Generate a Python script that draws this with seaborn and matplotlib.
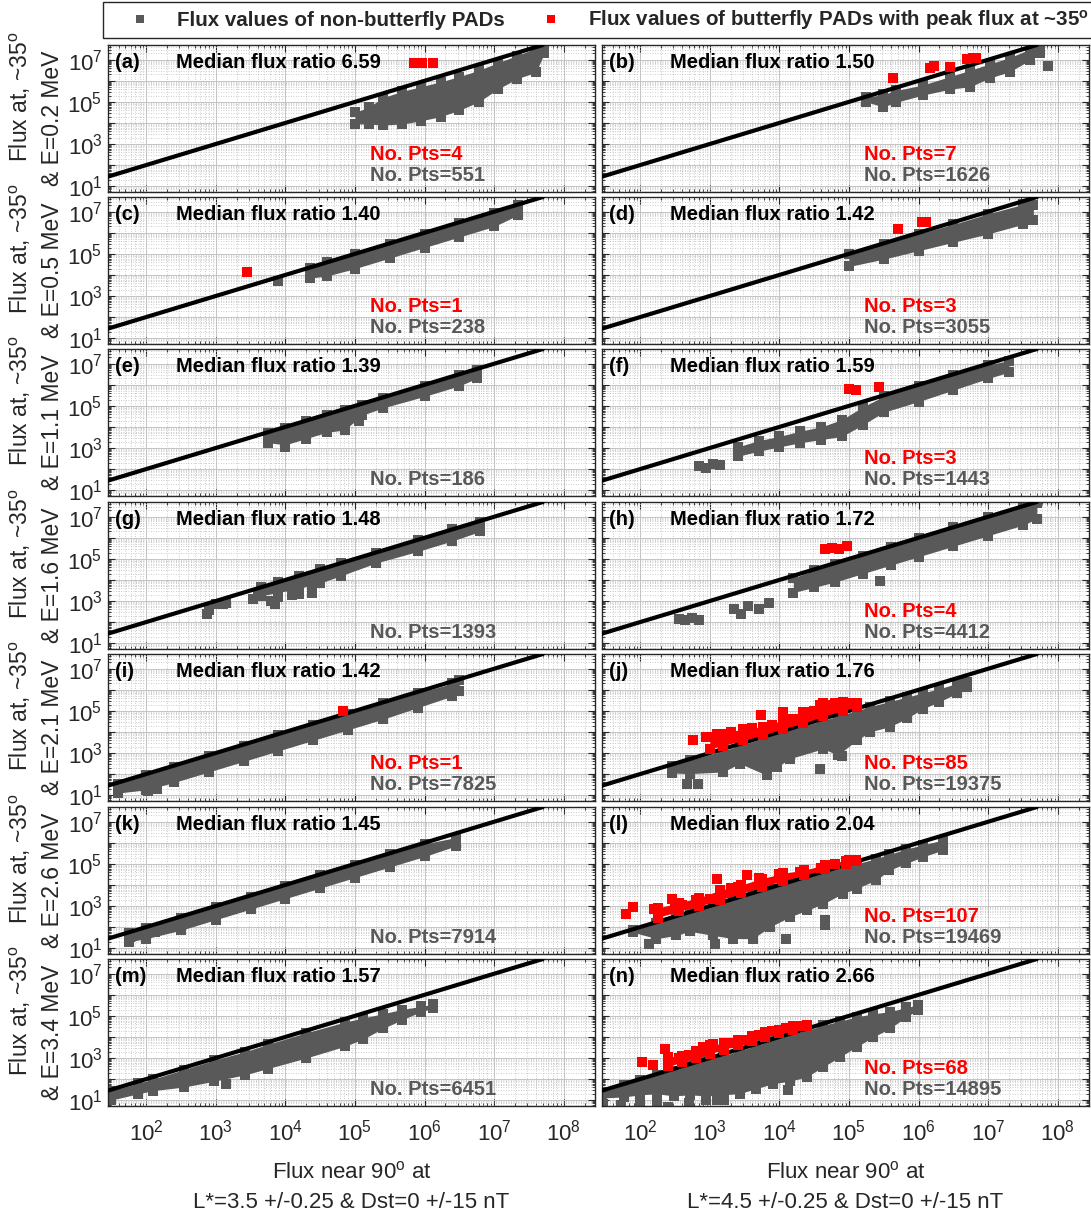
import numpy as np
import pandas as pd
import matplotlib
matplotlib.use("Agg")
import matplotlib.pyplot as plt
import seaborn as sns
from matplotlib.lines import Line2D
from matplotlib.ticker import FixedLocator, FuncFormatter, NullFormatter

sns.set_theme(style="white")
plt.rcParams["font.family"] = ["Liberation Sans", "DejaVu Sans"]
plt.rcParams["mathtext.fontset"] = "custom"
plt.rcParams["mathtext.rm"] = "Liberation Sans"
plt.rcParams["mathtext.bf"] = "Liberation Sans:bold"
plt.rcParams["mathtext.it"] = "Liberation Sans:italic"
plt.rcParams["mathtext.default"] = "regular"

# ---------------------------------------------------------------- data
# All flux values below are log10 of the flux.
panel_tags = ["a", "b", "c", "d", "e", "f", "g", "h", "i", "j", "k", "l", "m", "n"]
energies = ["0.2", "0.5", "1.1", "1.6", "2.1", "2.6", "3.4"]
lstar = ["3.5", "4.5"]
median_ratio = ["6.59", "1.50", "1.40", "1.42", "1.39", "1.59", "1.48",
                "1.72", "1.42", "1.76", "1.45", "2.04", "1.57", "2.66"]
n_red = [4, 7, 1, 3, 0, 3, 0, 4, 1, 85, 0, 107, 0, 68]
n_gray = [551, 1626, 238, 3055, 186, 1443, 1393, 4412, 7825, 19375, 7914, 19469, 6451, 14895]

# equal-flux reference line (log10 end points)
diag_log = [1.45, 7.7]

# dense non-butterfly clouds: x samples with lower / upper edge of the cloud
a_band_x = [5.0, 5.2, 5.4, 5.68, 5.95, 6.23, 6.5, 6.78, 7.05, 7.33, 7.6, 7.72]
a_band_lo = [3.95, 3.95, 3.9, 3.95, 4.1, 4.3, 4.6, 5.0, 5.6, 6.1, 6.4, 7.3]
a_band_hi = [4.5, 4.75, 5.2, 5.5, 5.72, 5.95, 6.2, 6.5, 6.85, 7.2, 7.55, 7.65]
a_gray_x, a_gray_y = [7.44], [6.67]
a_red_x = [5.85, 5.9, 5.97, 6.12]
a_red_y = [6.83, 6.85, 6.83, 6.85]

b_band_x = [5.25, 5.49, 5.68, 6.06, 6.45, 6.74, 7.02, 7.31, 7.6, 7.74]
b_band_lo = [5.0, 4.76, 4.98, 5.32, 5.6, 5.72, 6.13, 6.43, 6.98, 7.3]
b_band_hi = [5.22, 5.35, 5.54, 5.8, 6.2, 6.5, 6.8, 7.1, 7.5, 7.7]
b_gray_x, b_gray_y = [7.86], [6.7]
b_red_x = [5.63, 6.17, 6.22, 6.45, 6.69, 6.78, 6.83]
b_red_y = [6.15, 6.62, 6.68, 6.66, 7.03, 7.1, 7.1]

c_band_x = [4.35, 4.6, 5.0, 5.5, 6.0, 6.5, 7.0, 7.35]
c_band_lo = [3.85, 3.95, 4.3, 4.8, 5.3, 5.8, 6.3, 6.85]
c_band_hi = [4.35, 4.6, 5.0, 5.45, 5.95, 6.45, 6.95, 7.3]
c_gray_x, c_gray_y = [3.89], [3.7]
c_red_x, c_red_y = [3.45], [4.15]

d_band_x = [5.0, 5.5, 6.0, 6.5, 7.0, 7.5, 7.65]
d_band_lo = [4.4, 4.75, 5.15, 5.55, 5.95, 6.4, 6.6]
d_band_hi = [5.0, 5.45, 5.95, 6.4, 6.9, 7.35, 7.3]
d_gray_x, d_gray_y = [], []
d_red_x, d_red_y = [5.7, 6.05, 6.1], [6.2, 6.5, 6.5]

e_band_x = [3.75, 4.0, 4.3, 4.6, 4.85, 5.1, 5.4, 6.0, 6.5, 6.75]
e_band_lo = [3.25, 3.15, 3.45, 3.75, 3.85, 4.55, 4.9, 5.45, 5.95, 6.3]
e_band_hi = [3.7, 3.95, 4.3, 4.55, 4.8, 5.05, 5.35, 5.95, 6.45, 6.7]
e_gray_x, e_gray_y = [3.99, 5.06], [3.05, 4.28]
e_red_x, e_red_y = [], []

f_band_x = [3.4, 3.7, 4.0, 4.3, 4.6, 4.9, 5.2, 5.5, 6.0, 6.5, 7.0, 7.3]
f_band_lo = [2.6, 2.85, 3.05, 3.25, 3.4, 3.55, 4.1, 4.7, 5.2, 5.75, 6.3, 6.6]
f_band_hi = [3.05, 3.35, 3.55, 3.8, 4.0, 4.35, 4.95, 5.45, 5.95, 6.45, 6.95, 7.15]
f_gray_x, f_gray_y = [2.85, 2.95, 3.05, 3.15], [2.15, 2.05, 2.25, 2.2]
f_red_x, f_red_y = [5.0, 5.1, 5.43], [5.8, 5.75, 5.9]

g_band_x = [3.65, 3.9, 4.2, 4.5, 4.8, 5.3, 5.9, 6.4, 6.8]
g_band_lo = [3.25, 3.4, 3.6, 3.85, 4.2, 4.8, 5.35, 5.85, 6.3]
g_band_hi = [3.65, 3.9, 4.2, 4.5, 4.8, 5.3, 5.9, 6.4, 6.75]
g_gray_x = [2.88, 2.9, 3.0, 3.1, 3.14, 3.53, 3.6, 3.8, 3.85, 3.9, 4.1, 4.2, 4.38, 4.38]
g_gray_y = [2.4, 2.55, 2.85, 2.88, 2.9, 3.1, 3.3, 3.0, 2.85, 3.2, 3.3, 3.35, 3.4, 3.8]
g_red_x, g_red_y = [], []

h_band_x = [4.2, 4.5, 4.8, 5.2, 5.6, 6.0, 6.5, 7.0, 7.5, 7.7]
h_band_lo = [3.4, 3.65, 3.9, 4.3, 4.7, 5.1, 5.6, 6.1, 6.6, 6.9]
h_band_hi = [4.1, 4.45, 4.75, 5.15, 5.55, 6.0, 6.5, 7.0, 7.45, 7.65]
h_gray_x = [2.55, 2.65, 2.75, 2.85, 3.35, 3.45, 3.55, 3.7, 3.85, 5.45]
h_gray_y = [2.15, 2.1, 2.2, 2.1, 2.6, 2.4, 2.75, 2.6, 2.9, 3.95]
h_red_x, h_red_y = [4.65, 4.75, 4.85, 4.97], [5.45, 5.5, 5.45, 5.6]

i_band_x = [1.6, 2.0, 2.4, 2.9, 3.4, 3.9, 4.4, 4.9, 5.4, 5.9, 6.4, 6.5]
i_band_lo = [1.1, 1.25, 1.6, 2.1, 2.6, 3.1, 3.6, 4.1, 4.6, 5.15, 5.7, 5.95]
i_band_hi = [1.55, 1.95, 2.35, 2.85, 3.35, 3.85, 4.35, 4.85, 5.35, 5.85, 6.3, 6.45]
i_gray_x, i_gray_y = [2.02, 2.15], [1.2, 1.3]
i_red_x, i_red_y = [4.83], [5.0]

j_band_x = [2.45, 2.71, 3.19, 3.43, 3.82, 3.96, 4.15, 4.63, 4.84, 5.11, 5.3, 5.59, 5.83, 6.06, 6.3, 6.55, 6.69]
j_band_lo = [2.05, 2.02, 2.1, 2.5, 1.94, 2.32, 2.73, 3.2, 2.9, 3.6, 4.0, 4.25, 4.64, 5.1, 5.43, 5.83, 6.15]
j_band_hi = [2.4, 2.65, 3.1, 3.35, 3.75, 3.9, 4.1, 4.55, 4.75, 5.0, 5.2, 5.45, 5.65, 5.85, 6.05, 6.3, 6.38]
j_gray_x, j_gray_y = [2.67, 2.83, 4.58, 4.9], [1.54, 1.54, 2.26, 2.85]
j_redband_x = [3.0, 3.19, 3.48, 3.77, 4.05, 4.34, 4.63, 4.91, 5.11]
j_redband_lo = [3.2, 3.35, 3.6, 3.85, 4.15, 4.4, 4.75, 5.0, 5.2]
j_redband_hi = [3.77, 3.92, 4.15, 4.25, 4.56, 4.96, 5.35, 5.43, 5.35]
j_red_x = [2.76, 3.74, 4.05, 4.58, 2.95, 3.1, 3.3, 3.5, 3.6, 3.9, 4.2, 4.4, 4.5, 4.7, 4.8, 5.0]
j_red_y = [3.61, 4.8, 4.96, 5.27, 3.75, 3.9, 4.0, 4.1, 4.2, 4.35, 4.6, 4.95, 5.0, 5.3, 5.38, 5.35]

k_band_x = [1.75, 2.0, 2.5, 3.0, 3.5, 4.0, 4.5, 5.0, 5.5, 6.0, 6.45]
k_band_lo = [1.3, 1.45, 1.85, 2.35, 2.85, 3.35, 3.85, 4.35, 4.85, 5.35, 5.85]
k_band_hi = [1.7, 1.95, 2.45, 2.95, 3.45, 3.95, 4.45, 4.95, 5.45, 5.95, 6.25]
k_gray_x, k_gray_y = [1.77, 1.98, 2.13], [1.52, 1.76, 1.76]
k_red_x, k_red_y = [], []

l_band_x = [1.9, 2.23, 2.52, 2.71, 3.05, 3.34, 3.62, 3.86, 4.15, 4.4, 4.63, 4.91, 5.11, 5.39, 5.58, 5.82, 6.06, 6.35]
l_band_lo = [1.75, 1.45, 1.6, 1.8, 1.6, 1.45, 1.45, 2.0, 2.48, 2.8, 3.1, 3.59, 3.83, 4.23, 4.7, 5.02, 5.33, 5.65]
l_band_hi = [1.85, 2.18, 2.47, 2.66, 3.0, 3.29, 3.57, 3.81, 4.1, 4.35, 4.58, 4.86, 5.0, 5.25, 5.45, 5.7, 5.9, 6.13]
l_gray_x, l_gray_y = [2.12, 3.07, 4.1, 4.65, 4.65], [1.21, 1.21, 1.45, 2.32, 2.1]
l_redband_x = [2.25, 2.55, 2.85, 3.15, 3.45, 3.75, 4.05, 4.35, 4.65, 4.95, 5.1]
l_redband_lo = [2.45, 2.75, 3.0, 3.3, 3.6, 3.9, 4.2, 4.45, 4.75, 5.0, 5.12]
l_redband_hi = [2.9, 3.15, 3.4, 3.75, 4.0, 4.3, 4.55, 4.7, 4.95, 5.15, 5.2]
l_red_x = [1.8, 1.9, 2.2, 2.45, 3.1, 3.53, 2.5, 2.6, 2.8, 3.0, 3.3, 3.4, 3.7, 4.0, 4.3, 4.6, 4.8, 5.0]
l_red_y = [2.64, 2.96, 2.88, 3.35, 4.3, 4.46, 3.1, 3.05, 3.3, 3.35, 3.85, 3.9, 4.35, 4.5, 4.6, 4.8, 5.0, 5.18]

m_band_x = [1.5, 1.88, 2.1, 2.54, 2.98, 3.42, 3.75, 4.3, 4.85, 5.12, 5.4, 5.67, 5.95, 6.12]
m_band_lo = [1.0, 1.3, 1.45, 1.62, 1.9, 2.2, 2.5, 3.0, 3.55, 3.9, 4.4, 4.8, 5.2, 5.35]
m_band_hi = [1.45, 1.8, 2.0, 2.45, 2.9, 3.3, 3.65, 4.2, 4.7, 4.9, 5.1, 5.3, 5.45, 5.55]
m_gray_x, m_gray_y = [3.14], [1.78]
m_red_x, m_red_y = [], []

n_band_x = [1.45, 1.76, 2.0, 2.24, 2.48, 2.71, 2.95, 3.19, 3.43, 3.67, 3.91, 4.15, 4.39, 4.63, 4.87, 5.11, 5.35, 5.59, 5.82, 5.99]
n_band_lo = [1.1, 1.15, 1.25, 1.3, 1.2, 1.25, 1.2, 1.25, 1.31, 1.55, 1.78, 1.9, 2.1, 2.58, 3.05, 3.53, 4.0, 4.4, 4.95, 5.27]
n_band_hi = [1.4, 1.7, 1.95, 2.2, 2.4, 2.65, 2.9, 3.1, 3.35, 3.6, 3.85, 4.1, 4.3, 4.55, 4.75, 4.95, 5.1, 5.2, 5.4, 5.5]
n_gray_x = [1.47, 1.73, 2.0, 2.24, 2.4, 2.7, 2.95, 3.1, 3.2, 4.13, 4.39]
n_gray_y = [0.83, 0.75, 0.9, 0.9, 0.67, 0.85, 0.99, 0.99, 0.99, 1.47, 2.2]
n_redband_x = [2.4, 2.6, 2.8, 3.0, 3.2, 3.4, 3.6, 3.8, 4.0, 4.2, 4.4]
n_redband_lo = [2.6, 2.8, 3.0, 3.2, 3.4, 3.6, 3.8, 4.0, 4.2, 4.35, 4.5]
n_redband_hi = [3.05, 3.1, 3.35, 3.6, 3.7, 3.85, 4.05, 4.25, 4.35, 4.5, 4.55]
n_red_x = [2.02, 2.19, 2.36, 2.55, 2.7, 2.9, 3.05, 3.3, 3.5, 3.7, 3.9, 4.1, 4.3]
n_red_y = [2.81, 2.66, 3.45, 3.0, 3.15, 3.5, 3.65, 3.7, 3.85, 4.1, 4.3, 4.4, 4.5]

g_ = globals()
panels = {}
for t in panel_tags:
    panels[t] = dict(
        band=(g_[f"{t}_band_x"], g_[f"{t}_band_lo"], g_[f"{t}_band_hi"]),
        gray=(g_[f"{t}_gray_x"], g_[f"{t}_gray_y"]),
        redband=(g_.get(f"{t}_redband_x", []), g_.get(f"{t}_redband_lo", []),
                 g_.get(f"{t}_redband_hi", [])),
        red=(g_[f"{t}_red_x"], g_[f"{t}_red_y"]),
    )

# ---------------------------------------------------------------- style
GRAY = "#595959"
RED = "#ff0000"
INK = "#262626"
MS = 45            # square marker area (pt^2)
FS_TXT = 14.5      # bold in-panel text
FS_LEG = 14.8
FS_TICK = 16
FS_LAB = 16.5

W, H = 1091, 1212
fig = plt.figure(figsize=(W / 100, H / 100), dpi=100)
col_left = [108, 602]
ax_w = 487
row_top = [45, 197, 349, 502, 654, 807, 959]
ax_h = 147
XLIM = (10 ** 1.45, 10 ** 8.45)
YLIM = (10 ** 0.72, 10 ** 7.7)

x_major = 10.0 ** np.arange(2, 9)
y_major = 10.0 ** np.arange(1, 8)
minor_all = np.array([k * 10.0 ** e for e in range(0, 9) for k in range(2, 10)])
x_minor = minor_all[(minor_all > XLIM[0]) & (minor_all < XLIM[1])]
y_minor = minor_all[(minor_all > YLIM[0]) & (minor_all < YLIM[1])]


def dec_fmt(odd_only):
    def f(v, pos):
        e = int(round(np.log10(v)))
        if odd_only and e % 2 == 0:
            return ""
        return r"$10^{%d}$" % e
    return FuncFormatter(f)


def scatter(ax, xs, ys, color, z):
    if len(xs) == 0:
        return
    df = pd.DataFrame({"x": np.power(10.0, xs), "y": np.power(10.0, ys)})
    sns.scatterplot(data=df, x="x", y="y", marker="s", s=MS, color=color,
                    linewidth=0, ax=ax, zorder=z, legend=False)


def cloud(ax, bx, blo, bhi, color, z):
    if len(bx) == 0:
        return
    bx, blo, bhi = (np.asarray(v, float) for v in (bx, blo, bhi))
    ax.fill_between(np.power(10.0, bx), np.power(10.0, blo), np.power(10.0, bhi),
                    color=color, lw=0, zorder=z)
    scatter(ax, np.r_[bx, bx], np.r_[blo, bhi], color, z)


for idx, tag in enumerate(panel_tags):
    r, c = divmod(idx, 2)
    ax = fig.add_axes([col_left[c] / W, 1 - (row_top[r] + ax_h) / H, ax_w / W, ax_h / H])
    ax.set_xscale("log")
    ax.set_yscale("log")
    p = panels[tag]

    cloud(ax, *p["band"], GRAY, 2)
    scatter(ax, *p["gray"], GRAY, 2)

    diag = np.power(10.0, diag_log)
    sns.lineplot(x=diag, y=diag, color="black", lw=3.0, ax=ax, zorder=3)

    cloud(ax, *p["redband"], RED, 4)
    scatter(ax, *p["red"], RED, 4)

    ax.set_xlim(*XLIM)
    ax.set_ylim(*YLIM)
    ax.set_xlabel("")
    ax.set_ylabel("")

    ax.xaxis.set_major_locator(FixedLocator(x_major))
    ax.xaxis.set_minor_locator(FixedLocator(x_minor))
    ax.yaxis.set_major_locator(FixedLocator(y_major))
    ax.yaxis.set_minor_locator(FixedLocator(y_minor))
    ax.xaxis.set_minor_formatter(NullFormatter())
    ax.yaxis.set_minor_formatter(NullFormatter())
    ax.xaxis.set_major_formatter(dec_fmt(False) if r == 6 else NullFormatter())
    ax.yaxis.set_major_formatter(dec_fmt(True) if c == 0 else NullFormatter())

    ax.tick_params(which="both", direction="in", top=True, right=True,
                   bottom=True, left=True, colors=INK, labelcolor=INK)
    ax.tick_params(which="major", length=5, width=0.8, labelsize=FS_TICK)
    ax.tick_params(axis="x", which="major", pad=10)
    ax.tick_params(axis="y", which="major", pad=4)
    ax.tick_params(which="minor", length=2.5, width=0.6)

    ax.set_axisbelow(True)
    ax.grid(True, which="major", color="#c4c4c4", lw=0.7, ls="-")
    ax.grid(True, which="minor", color="#bdbdbd", lw=0.6, ls=(0, (1, 2)))
    for s in ax.spines.values():
        s.set_color(INK)
        s.set_linewidth(1.0)

    ax.text(0.014, 0.884, f"({tag})", transform=ax.transAxes, fontsize=FS_TXT,
            fontweight="bold", color="black", va="center", ha="left", zorder=6)
    ax.text(0.14, 0.884, f"Median flux ratio {median_ratio[idx]}", transform=ax.transAxes,
            fontsize=FS_TXT, fontweight="bold", color="black", va="center", ha="left", zorder=6)
    if n_red[idx] > 0:
        ax.text(0.537, 0.258, f"No. Pts={n_red[idx]}", transform=ax.transAxes,
                fontsize=FS_TXT, fontweight="bold", color=RED, va="center", ha="left", zorder=6)
    ax.text(0.537, 0.109, f"No. Pts={n_gray[idx]}", transform=ax.transAxes,
            fontsize=FS_TXT, fontweight="bold", color=GRAY, va="center", ha="left", zorder=6)

    if c == 0:
        # two-line y label: energy line centred on the row, angle line set a little higher
        ax.text(-0.179, 0.65, "Flux at, ~35$^{o}$", transform=ax.transAxes, rotation=90,
                fontsize=FS_LAB, color=INK, ha="center", va="center")
        ax.set_ylabel(f"& E={energies[r]} MeV", fontsize=FS_LAB, color=INK)
        ax.yaxis.set_label_coords(-0.113, 0.5)
        ax.yaxis.label.set_verticalalignment("center")
    if r == 6:
        ax.set_xlabel(f"Flux near 90$^{{o}}$ at\nL*={lstar[c]} +/-0.25 & Dst=0 +/-15 nT",
                      fontsize=16, color=INK, linespacing=1.55)
        ax.xaxis.set_label_coords(0.5, -0.375)

handles = [Line2D([], [], ls="none", marker="s", markersize=5.5, color=GRAY, mew=0),
           Line2D([], [], ls="none", marker="s", markersize=5.5, color=RED, mew=0)]
labels = ["Flux values of non-butterfly PADs",
          r"Flux values of butterfly PADs with peak flux at ~35$^{\mathbf{o}}$"]
leg = fig.legend(handles, labels, loc="upper left", bbox_to_anchor=(103 / W, 1 - 2 / H),
                 ncol=2, frameon=True, fancybox=False, framealpha=1,
                 prop={"size": FS_LEG, "weight": "bold"}, borderpad=0.3,
                 handlelength=3.0, handletextpad=0.3, columnspacing=0.74, borderaxespad=0)
leg.get_frame().set_edgecolor(INK)
leg.get_frame().set_linewidth(1.0)

fig.savefig("out.png", dpi=100, facecolor="white")
